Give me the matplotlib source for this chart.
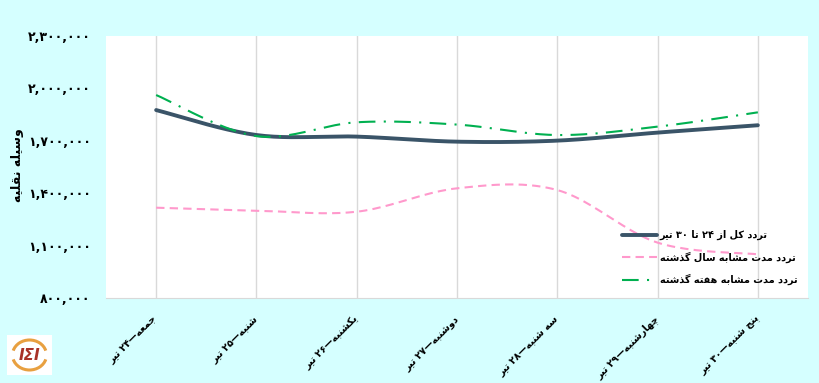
import re
import numpy as np
import matplotlib
matplotlib.use("Agg")
import matplotlib.pyplot as plt
from matplotlib.patches import Arc
from matplotlib import font_manager
from matplotlib.ft2font import FT2Font

# ---- data ----
days = ["جمعه—۲۴ تیر", "شنبه—۲۵ تیر", "یکشنبه—۲۶ تیر", "دوشنبه—۲۷ تیر",
        "سه شنبه—۲۸ تیر", "چهارشنبه—۲۹ تیر", "پنج شنبه—۳۰ تیر"]
total_now = [1876000, 1733000, 1724000, 1695000, 1701000, 1747000, 1789000]
last_year = [1317000, 1300000, 1294000, 1428000, 1418000, 1117000, 1050000]
last_week = [1962000, 1727000, 1806000, 1793000, 1733000, 1781000, 1863000]
series_names = ["تردد کل از ۲۴ تا ۳۰ تیر", "تردد مدت مشابه سال گذشته",
                "تردد مدت مشابه هفته گذشته"]
y_ticks = [800000, 1100000, 1400000, 1700000, 2000000, 2300000]
y_title = "وسیله نقلیه"

# ---- minimal Persian shaping (matplotlib does no complex text layout) ----
# char: (isolated, final, initial, medial)
FORMS = {
    "ا": ("\uFE8D", "\uFE8E", None, None),
    "ب": ("\uFE8F", "\uFE90", "\uFE91", "\uFE92"),
    "پ": ("\uFB56", "\uFB57", "\uFB58", "\uFB59"),
    "ت": ("\uFE95", "\uFE96", "\uFE97", "\uFE98"),
    "ج": ("\uFE9D", "\uFE9E", "\uFE9F", "\uFEA0"),
    "چ": ("\uFB7A", "\uFB7B", "\uFB7C", "\uFB7D"),
    "د": ("\uFEA9", "\uFEAA", None, None),
    "ذ": ("\uFEAB", "\uFEAC", None, None),
    "ر": ("\uFEAD", "\uFEAE", None, None),
    "ز": ("\uFEAF", "\uFEB0", None, None),
    "س": ("\uFEB1", "\uFEB2", "\uFEB3", "\uFEB4"),
    "ش": ("\uFEB5", "\uFEB6", "\uFEB7", "\uFEB8"),
    "ع": ("\uFEC9", "\uFECA", "\uFECB", "\uFECC"),
    "ف": ("\uFED1", "\uFED2", "\uFED3", "\uFED4"),
    "ق": ("\uFED5", "\uFED6", "\uFED7", "\uFED8"),
    "ک": ("\uFB8E", "\uFB8F", "\uFB90", "\uFB91"),
    "گ": ("\uFB92", "\uFB93", "\uFB94", "\uFB95"),
    "ل": ("\uFEDD", "\uFEDE", "\uFEDF", "\uFEE0"),
    "م": ("\uFEE1", "\uFEE2", "\uFEE3", "\uFEE4"),
    "ن": ("\uFEE5", "\uFEE6", "\uFEE7", "\uFEE8"),
    "ه": ("\uFEE9", "\uFEEA", "\uFEEB", "\uFEEC"),
    "و": ("\uFEED", "\uFEEE", None, None),
    "ی": ("\uFBFC", "\uFBFD", "\uFBFE", "\uFBFF"),
}
# look-alike forms to use when the font lacks the Persian ones
ALT = {
    "\uFBFC": "\uFEEF", "\uFBFD": "\uFEF0", "\uFBFE": "\uFEF3", "\uFBFF": "\uFEF4",
    "\uFB8E": "\uFED9", "\uFB8F": "\uFEDA", "\uFB90": "\uFEDB", "\uFB91": "\uFEDC",
}

plt.rcParams["font.family"] = ["DejaVu Sans"]
_bold = FT2Font(font_manager.findfont(
    font_manager.FontProperties(family="DejaVu Sans", weight="bold")))
_cmap = _bold.get_charmap()


def fa(text):
    out = []
    n = len(text)
    for i, ch in enumerate(text):
        if ch not in FORMS:
            out.append(ch)
            continue
        prev = text[i - 1] if i > 0 else ""
        nxt = text[i + 1] if i < n - 1 else ""
        jp = prev in FORMS and FORMS[prev][2] is not None
        jn = nxt in FORMS and FORMS[ch][2] is not None
        iso, fin, ini, med = FORMS[ch]
        g = med if (jp and jn) else fin if jp else ini if jn else iso
        if ord(g) not in _cmap and g in ALT:
            g = ALT[g]
        out.append(g)
    s = "".join(out)[::-1]
    # digit runs stay left-to-right
    return re.sub(r"[0-9\u06F0-\u06F9]+", lambda m: m.group(0)[::-1], s)


def fa_num(v):
    return f"{v:,}".translate(str.maketrans("0123456789", "۰۱۲۳۴۵۶۷۸۹"))


def smooth(xs, ys, k=24):
    # Excel-like smoothed line: Catmull-Rom through the points as cubic Beziers
    p = np.column_stack([xs, ys]).astype(float)
    p = np.vstack([p[0], p, p[-1]])
    t = np.linspace(0, 1, k)[:, None]
    segs = []
    for i in range(1, len(p) - 2):
        p0, p1, p2, p3 = p[i - 1], p[i], p[i + 1], p[i + 2]
        c1 = p1 + (p2 - p0) / 6
        c2 = p2 - (p3 - p1) / 6
        seg = ((1 - t) ** 3) * p1 + 3 * ((1 - t) ** 2) * t * c1 \
            + 3 * (1 - t) * t ** 2 * c2 + t ** 3 * p2
        segs.append(seg if i == 1 else seg[1:])
    c = np.vstack(segs)
    return c[:, 0], c[:, 1]


bg = "#D5FFFF"
fig = plt.figure(figsize=(8.2, 3.83), dpi=100, facecolor=bg)
ax = fig.add_axes([106 / 820, 1 - 298 / 383, 702 / 820, 262 / 383])
ax.set_facecolor("white")

x = np.arange(len(days))
styles = [
    dict(color="#3A5468", lw=2.8, ls="-", solid_capstyle="round"),
    dict(color="#FF99CC", lw=1.5, ls=(0, (4, 2.5))),
    dict(color="#00B050", lw=1.5, ls=(0, (8, 4, 1, 4))),
]
for vals, name, st in zip([total_now, last_year, last_week], series_names, styles):
    sx, sy = smooth(x, vals)
    ax.plot(sx, sy, label=fa(name), **st)

ax.set_xlim(-0.5, 6.5)
ax.set_ylim(800000, 2300000)
ax.set_yticks(y_ticks)
ax.set_yticklabels([fa_num(v) for v in y_ticks], fontsize=9, fontweight="bold")
ax.set_xticks(x)
ax.set_xticklabels([fa(d) for d in days], rotation=45, ha="right", va="center",
                   rotation_mode="anchor", fontsize=7, fontweight="bold")
ax.tick_params(axis="both", length=0)
ax.tick_params(axis="y", pad=11)
ax.tick_params(axis="x", pad=14)
ax.grid(axis="x", color="#D9D9D9", lw=1)
ax.set_axisbelow(True)
for sp in ["top", "right", "left"]:
    ax.spines[sp].set_visible(False)
ax.spines["bottom"].set_color("#D9D9D9")

fig.text(18 / 820, 1 - 165 / 383, fa(y_title), rotation=90, ha="center",
         va="center", fontsize=9, fontweight="bold")

leg = ax.legend(loc="lower right", bbox_to_anchor=(0.997, 0.015), frameon=False,
                prop=dict(size=7, weight="bold"), handlelength=3.6,
                labelspacing=1.15, handletextpad=0.3)

# small logo, bottom left
lax = fig.add_axes([7 / 820, 1 - 375 / 383, 45 / 820, 40 / 383])
lax.set_xlim(0, 45)
lax.set_ylim(0, 40)
lax.set_facecolor("white")
lax.set_xticks([])
lax.set_yticks([])
for sp in lax.spines.values():
    sp.set_visible(False)
lax.add_patch(Arc((22.5, 20), 34, 30, theta1=15, theta2=165, color="#E8A040", lw=2.2))
lax.add_patch(Arc((22.5, 20), 34, 30, theta1=195, theta2=345, color="#E8A040", lw=2.2))
lax.text(22.5, 20, "IΣI", ha="center", va="center", color="#A83228",
         fontsize=11, fontweight="bold", fontstyle="italic")

fig.savefig("out.png", dpi=100, facecolor=bg)
